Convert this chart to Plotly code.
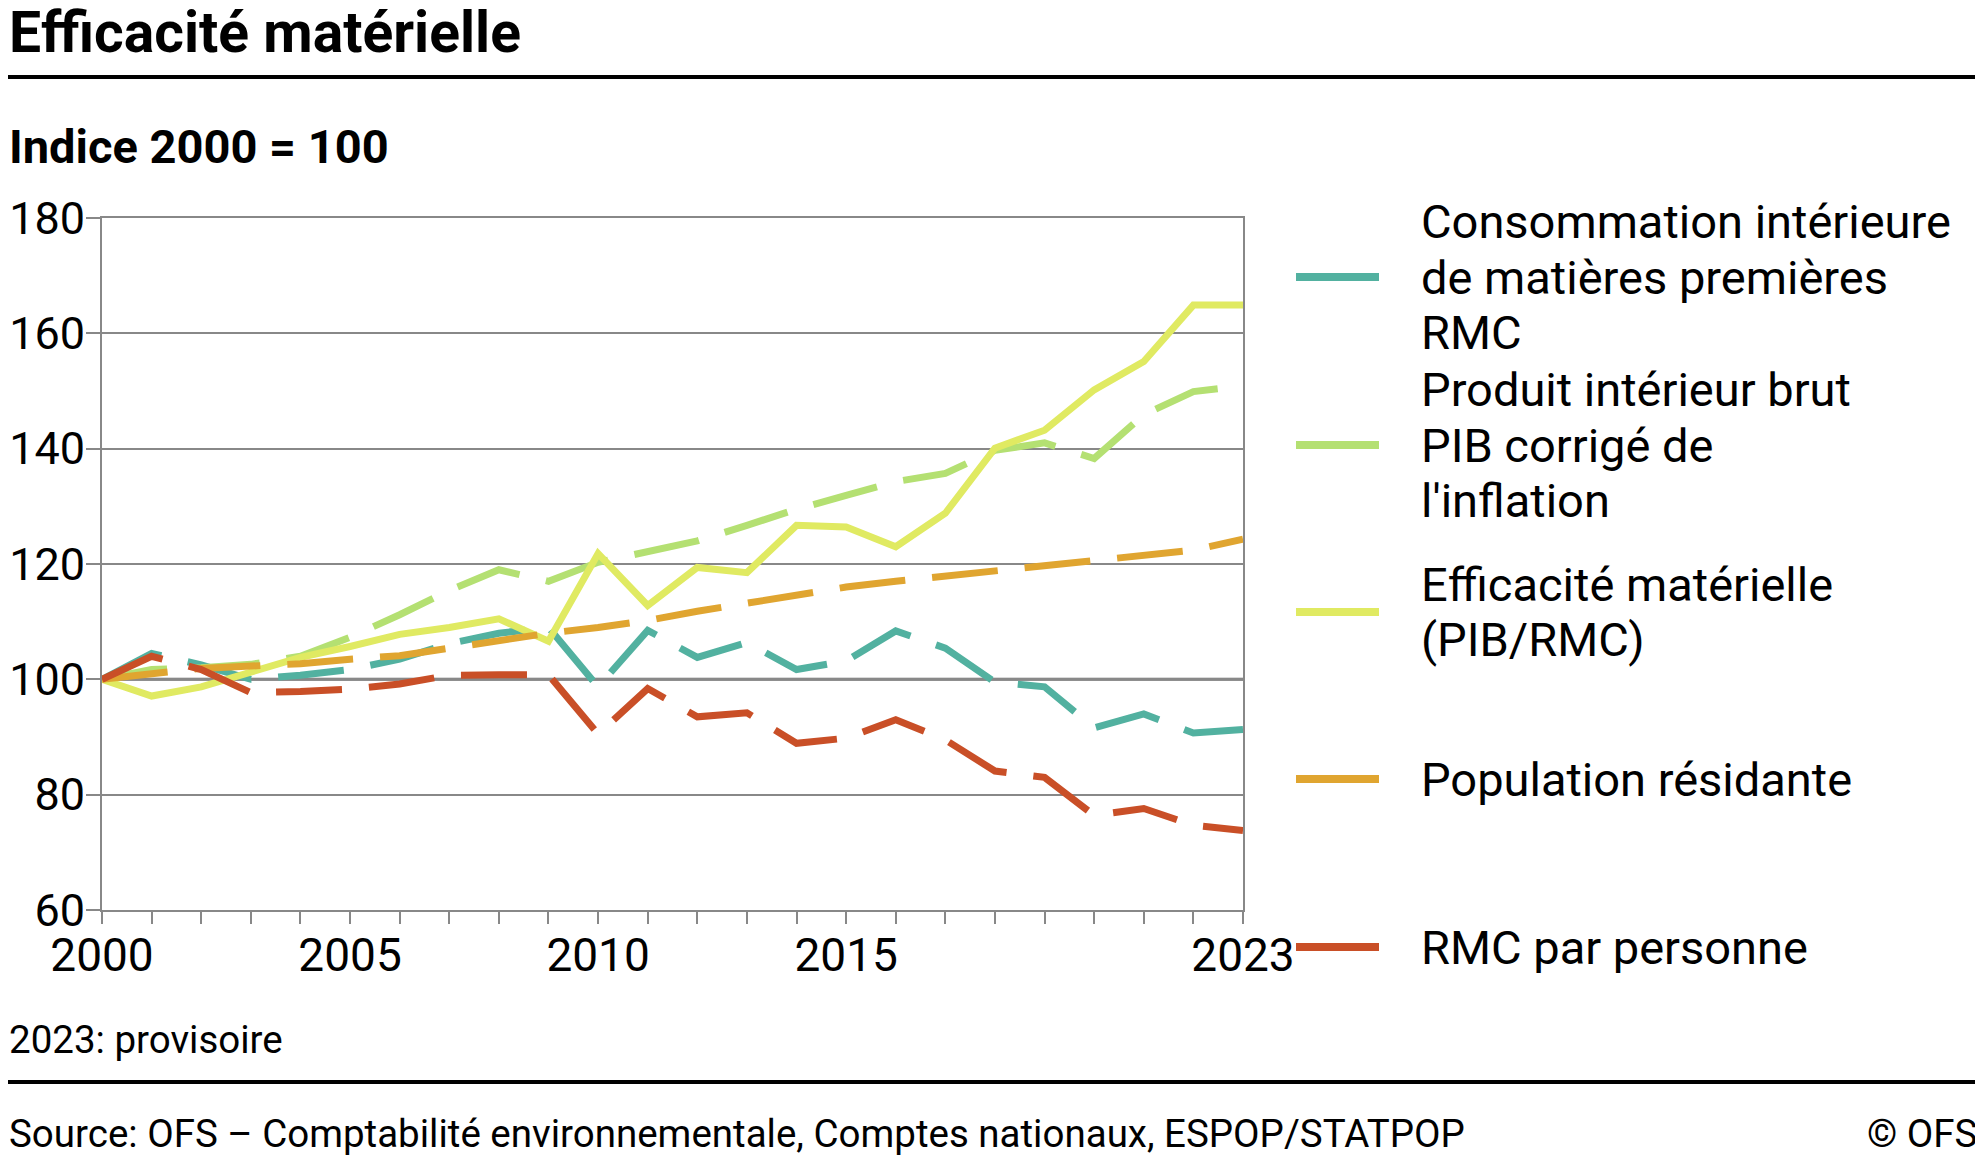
import plotly.graph_objects as go

years = list(range(2000, 2024))
rmc = [100, 104.5, 102.5, 100, 100.7, 101.7, 103.5, 106.2, 108.0, 109.0, 98.7, 108.5,
       103.8, 106.4, 101.7, 103.2, 108.4, 105.4, 99.5, 98.7, 91.6, 94.0, 90.7, 91.3]
pib = [100, 101.7, 102.0, 102.6, 104.0, 107.3, 111.2, 115.4, 119.0, 117.0, 120.3, 122.3,
       124.0, 126.7, 129.5, 131.9, 134.3, 135.7, 139.7, 141.0, 138.3, 145.9, 149.9, 150.9]
eff = [100, 97.1, 98.7, 101.4, 103.8, 105.7, 107.8, 109.0, 110.5, 106.6, 121.8, 112.8,
       119.4, 118.5, 126.7, 126.4, 123.0, 128.8, 140.1, 143.2, 150.2, 155.1, 164.9, 164.9]
pop = [100, 100.8, 101.9, 102.3, 102.7, 103.5, 104.1, 105.4, 106.8, 108.0, 109.0, 110.2,
       111.8, 113.3, 114.5, 116.0, 117.0, 117.9, 118.6, 119.5, 120.4, 121.4, 122.4, 124.3]
rmc_pp = [100, 104.0, 101.7, 97.7, 97.9, 98.3, 99.2, 100.7, 100.8, 100.8, 90.5, 98.4,
          93.5, 94.2, 88.9, 89.8, 93.0, 89.5, 84.1, 83.0, 76.4, 77.6, 74.7, 73.8]

labels = [
    "Consommation intérieure<br>de matières premières<br>RMC",
    "Produit intérieur brut<br>PIB corrigé de<br>l'inflation",
    "Efficacité matérielle<br>(PIB/RMC)",
    "Population résidante",
    "RMC par personne",
]
series = [rmc, pib, eff, pop, rmc_pp]
colors = ["#52b1a0", "#b4e072", "#e0ea62", "#e0a530", "#c94f27"]
dashes = ["66px,27px", "66px,27px", "solid", "66px,27px", "66px,27px"]

xtick_vals = years
xtick_text = [str(y) if y in (2000, 2005, 2010, 2015, 2023) else "" for y in years]

OFF = 8  # page body margin offset
W, H = 1983 - OFF, 1161 - OFF
L, R, T, B = 102 - OFF, 1243 - OFF, 218 - OFF, 910 - OFF
FONT = "Roboto"


def xp(px):
    return (px - OFF - L) / (R - L)


def yp(py):
    return (B - (py - OFF)) / (B - T)


fig = go.Figure()
for name, vals, col, d in zip(labels, series, colors, dashes):
    fig.add_trace(go.Scatter(x=years, y=vals, mode="lines", name=name.replace("<br>", " "),
                             line=dict(color=col, width=7, dash=d),
                             showlegend=False))

shapes = []
shapes.append(dict(type="line", xref="x", yref="y", x0=2000, x1=2023, y0=100, y1=100,
                   line=dict(color="#6a6a6a", width=3), layer="below"))
for py in (77, 1082):
    shapes.append(dict(type="line", xref="paper", yref="paper", x0=xp(OFF), x1=xp(1983),
                       y0=yp(py), y1=yp(py), line=dict(color="#000000", width=4)))
leg_y = [277, 445, 612, 779, 947]
for col, py in zip(colors, leg_y):
    shapes.append(dict(type="line", xref="paper", yref="paper", x0=xp(1296), x1=xp(1379),
                       y0=yp(py), y1=yp(py), line=dict(color=col, width=8)))

annotations = [
    dict(text="<b>Efficacité matérielle</b>", x=xp(OFF), y=yp(32), font=dict(size=57)),
    dict(text="<b>Indice 2000 = 100</b>", x=xp(OFF), y=yp(147), font=dict(size=47)),
    dict(text="2023: provisoire", x=xp(OFF), y=yp(1039), font=dict(size=38.5)),
    dict(text="Source: OFS – Comptabilité environnementale, Comptes nationaux, ESPOP/STATPOP",
         x=xp(OFF), y=yp(1133), font=dict(size=38.5)),
    dict(text="© OFS", x=xp(1978), y=yp(1133), font=dict(size=38.5), xanchor="right"),
]
LINE_GAP = 55.6
for lab, py in zip(labels, leg_y):
    parts = lab.split("<br>")
    n = len(parts)
    for i, part in enumerate(parts):
        ly = py + (i - (n - 1) / 2) * LINE_GAP
        annotations.append(dict(text=part, x=xp(1420), y=yp(ly), font=dict(size=47)))
for a in annotations:
    a.setdefault("xanchor", "left")
    a.update(xref="paper", yref="paper", yanchor="middle", showarrow=False, borderpad=0)
    a["font"].update(family=FONT, color="#000000")

fig.update_layout(
    width=W, height=H, autosize=False,
    margin=dict(l=L, r=W - R, t=T, b=H - B, pad=0, autoexpand=False),
    paper_bgcolor="white", plot_bgcolor="white",
    font=dict(family=FONT, color="#000000", size=46),
    shapes=shapes, annotations=annotations,
    xaxis=dict(range=[2000, 2023], tickmode="array", tickvals=xtick_vals, ticktext=xtick_text,
               showgrid=False, zeroline=False, showline=True, linecolor="#888888", linewidth=2,
               mirror=True, ticks="outside", ticklen=12, tickwidth=2, tickcolor="#888888",
               automargin=False, ticklabelstandoff=-8,
               tickfont=dict(size=46, family=FONT, color="#000000")),
    yaxis=dict(range=[60, 180], tickmode="linear", tick0=60, dtick=20,
               showgrid=True, gridcolor="#888888", gridwidth=2, zeroline=False,
               showline=True, linecolor="#888888", linewidth=2, mirror=True,
               ticks="outside", ticklen=14, tickwidth=2, tickcolor="#888888",
               automargin=False, ticklabelstandoff=-8,
               tickfont=dict(size=45, family=FONT, color="#000000")),
)

fig.write_html("out.html")
